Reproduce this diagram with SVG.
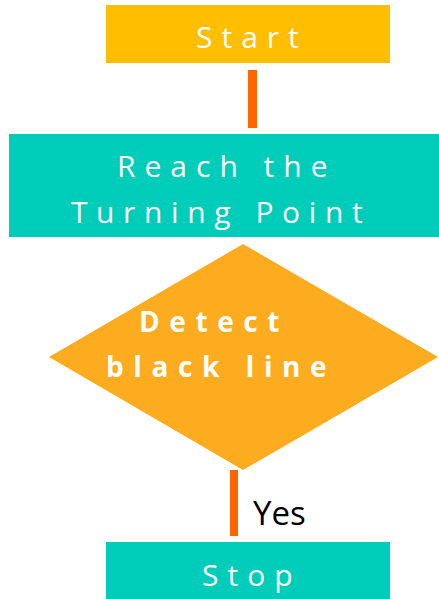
<svg xmlns="http://www.w3.org/2000/svg" width="439" height="599" viewBox="0 0 439 599">
  <style>
    .lbl { font-family: "Open Sans", "Liberation Sans", sans-serif; fill: #ffffff; font-size: 30px; letter-spacing: 9px; }
    .tight { letter-spacing: 8.6px; }
    .bold { font-weight: bold; font-size: 28px; letter-spacing: 9.6px; }
    .edge { fill: #ff6600; }
    .note { font-family: "Open Sans", "Liberation Sans", sans-serif; fill: #000000; font-size: 33px; }
  </style>
  <rect width="439" height="599" fill="#ffffff"/>
  <g id="connectors">
    <rect class="edge" x="248" y="70" width="9" height="58"/>
    <rect class="edge" x="230" y="470" width="8" height="66"/>
    <text class="note" x="253" y="525">Yes</text>
  </g>
  <g id="start">
    <rect x="106" y="5" width="284" height="58" fill="#ffbe00"/>
    <text class="lbl" x="196" y="48">Start</text>
  </g>
  <g id="reach">
    <rect x="9" y="134" width="430" height="103" fill="#00cdb9"/>
    <text class="lbl" x="117" y="177">Reach the</text>
    <text class="lbl tight" x="71" y="223">Turning Point</text>
  </g>
  <g id="detect">
    <polygon points="243,244 438,357 243,470 49,357" fill="#fdab1f"/>
    <text class="lbl bold" x="139" y="332">Detect</text>
    <text class="lbl bold" x="106" y="377">black line</text>
  </g>
  <g id="stop">
    <rect x="106" y="542" width="284" height="57" fill="#00cdb9"/>
    <text class="lbl" x="202" y="586">Stop</text>
  </g>
</svg>
